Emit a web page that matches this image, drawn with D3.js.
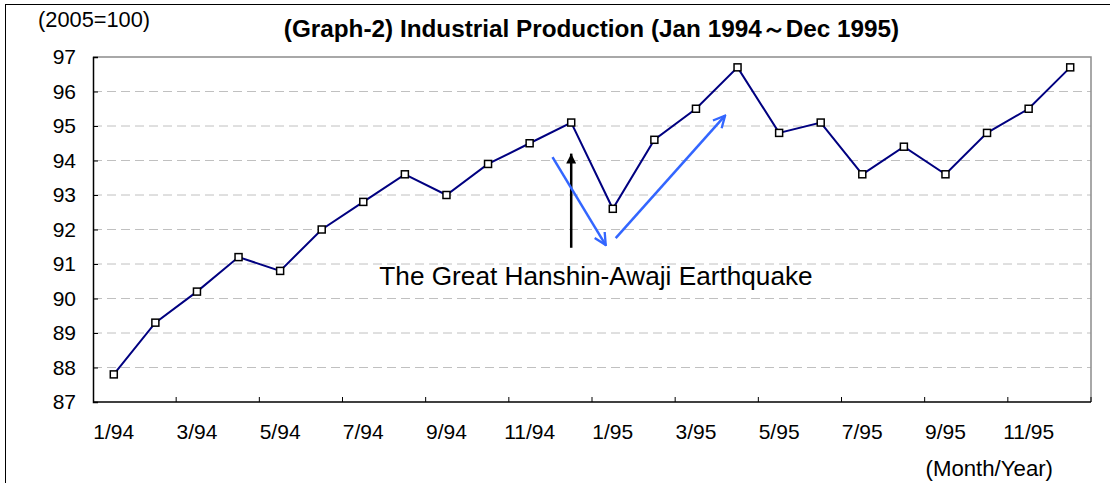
<!DOCTYPE html>
<html><head><meta charset="utf-8">
<script src="https://cdn.jsdelivr.net/npm/d3@7"></script>
<style>body{margin:0;background:#fff}svg{display:block}text{font-family:"Liberation Sans",Arial,sans-serif}</style>
</head><body><svg id="c" width="1110" height="483"></svg>
<script>
const months = ["1/94","2/94","3/94","4/94","5/94","6/94","7/94","8/94","9/94","10/94","11/94","12/94",
                "1/95","2/95","3/95","4/95","5/95","6/95","7/95","8/95","9/95","10/95","11/95","12/95"];
const values = [87.8,89.3,90.2,91.2,90.8,92.0,92.8,93.6,93.0,93.9,94.5,95.1,
                92.6,94.6,95.5,96.7,94.8,95.1,93.6,94.4,93.6,94.8,95.5,96.7];
const yTicks = [87,88,89,90,91,92,93,94,95,96,97];
const xLabels = ["1/94","3/94","5/94","7/94","9/94","11/94","1/95","3/95","5/95","7/95","9/95","11/95"];
const title = "(Graph-2) Industrial Production (Jan 1994～Dec 1995)";
const unitLabel = "(2005=100)";
const xAxisLabel = "(Month/Year)";
const annotation = "The Great Hanshin-Awaji Earthquake";
// arrows in data coordinates: [month index (fractional), value]
const blackArrow = [[11.5, 91.47], [11.5, 94.2]];
const blueArrow1 = [[11.05, 94.1], [12.33, 91.55]];
const blueArrow2 = [[12.57, 91.75], [15.2, 95.3]];

const svg = d3.select("#c");
const L = 93, R = 1091, T = 57, B = 402;
const x = d3.scaleBand().domain(months).range([L, R]).paddingInner(0).paddingOuter(0);
const y = d3.scaleLinear().domain([87, 97]).range([B, T]);
const xc = i => L + x.step() * (i + 0.5);

// outer frame
svg.append("rect").attr("x",5.5).attr("y",4.5).attr("width",1120).attr("height",500)
  .attr("fill","none").attr("stroke","#000").attr("stroke-width",1);

// grid
svg.append("g").selectAll("line").data(yTicks.filter(d=>d>87 && d<97)).join("line")
  .attr("x1",L).attr("x2",R).attr("y1",d=>y(d)).attr("y2",d=>y(d))
  .attr("stroke","#c0c0c0").attr("stroke-dasharray","9,5").attr("stroke-width",1);

// plot frame top/right
svg.append("path").attr("d",`M${L},${T}H${R}V${B}`).attr("fill","none").attr("stroke","#8c8c8c").attr("stroke-width",1.5);

// y axis
const yAxis = svg.append("g").attr("transform",`translate(${L},0)`)
  .call(d3.axisLeft(y).tickValues(yTicks).tickSize(-5).tickPadding(17).tickFormat(d3.format("d")));
yAxis.select(".domain").attr("stroke","#000").attr("stroke-width",1.5);
yAxis.selectAll(".tick line").attr("stroke","#000");
yAxis.selectAll("text").attr("font-size",21).attr("fill","#000").attr("font-family","Liberation Sans, Arial, sans-serif");

// x axis
const tickPos = d3.range(2, 25, 2).map(i => L + i * x.step());
const xAxisG = svg.append("g");
xAxisG.append("line").attr("x1",L).attr("x2",R).attr("y1",B).attr("y2",B).attr("stroke","#000").attr("stroke-width",1.5);
xAxisG.selectAll("line.t").data(tickPos).join("line").attr("class","t")
  .attr("x1",d=>d).attr("x2",d=>d).attr("y1",B).attr("y2",B-5).attr("stroke","#000");
xAxisG.selectAll("text").data(xLabels).join("text")
  .attr("x",d=>x(d)+x.bandwidth()/2).attr("y",439).attr("text-anchor","middle")
  .attr("font-size",21).text(d=>d);

// line
svg.append("path").datum(values)
  .attr("d", d3.line().x((d,i)=>xc(i)).y(d=>y(d)))
  .attr("fill","none").attr("stroke","#000080").attr("stroke-width",2);
svg.append("g").selectAll("rect").data(values).join("rect")
  .attr("x",(d,i)=>xc(i)-3.5).attr("y",d=>y(d)-3.5).attr("width",7).attr("height",7)
  .attr("fill","#fff").attr("stroke","#000").attr("stroke-width",1.5);

// texts
svg.append("text").attr("x",591.5).attr("y",37).attr("text-anchor","middle")
  .attr("font-size",24.3).attr("font-weight","bold").text(title);
svg.append("text").attr("x",38).attr("y",27).attr("font-size",21.8).text(unitLabel);
svg.append("text").attr("x",1053).attr("y",476).attr("text-anchor","end").attr("font-size",22.2).text(xAxisLabel);
svg.append("text").attr("x",596).attr("y",285).attr("text-anchor","middle").attr("font-size",26.2).text(annotation);

// arrows
const defs = svg.append("defs");
defs.append("marker").attr("id","bh").attr("viewBox","0 0 10 10").attr("refX",10).attr("refY",5)
  .attr("markerWidth",10).attr("markerHeight",10).attr("markerUnits","userSpaceOnUse").attr("orient","auto")
  .append("path").attr("d","M0,0L10,5L0,10Z").attr("fill","#000");
defs.append("marker").attr("id","oh").attr("viewBox","0 0 12 12").attr("refX",11).attr("refY",6)
  .attr("markerWidth",14).attr("markerHeight",14).attr("markerUnits","userSpaceOnUse").attr("orient","auto")
  .append("path").attr("d","M1,1L11,6L1,11").attr("fill","none").attr("stroke","#3366ff").attr("stroke-width",2);
const ax = p => L + x.step()*p[0];
const seg = (a, color, m) => svg.append("line")
  .attr("x1",ax(a[0])).attr("y1",y(a[0][1])).attr("x2",ax(a[1])).attr("y2",y(a[1][1]))
  .attr("stroke",color).attr("stroke-width",2.5).attr("marker-end",`url(#${m})`);
seg(blackArrow,"#000","bh");
seg(blueArrow1,"#3366ff","oh");
seg(blueArrow2,"#3366ff","oh");
</script></body></html>
